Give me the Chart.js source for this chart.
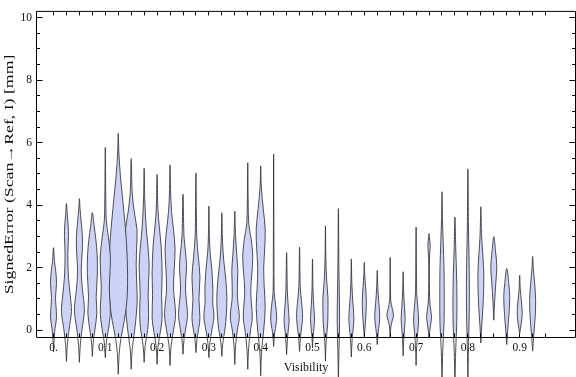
<!DOCTYPE html>
<html>
<head>
<meta charset="utf-8">
<script src="https://cdn.jsdelivr.net/npm/chart.js@4.4.1/dist/chart.umd.min.js"></script>
<style>
  html, body { margin: 0; padding: 0; background: #fff; }
  #wrap { width: 576px; height: 377px; }
</style>
</head>
<body>
<div id="wrap"><canvas id="violins"></canvas></div>
<script>
// Visibility value of each violin (x positions)
const visibility = [0, 0.025, 0.05, 0.075, 0.1, 0.125, 0.15, 0.175, 0.2, 0.225,
  0.25, 0.275, 0.3, 0.325, 0.35, 0.375, 0.4, 0.425, 0.45, 0.475,
  0.5, 0.525, 0.55, 0.575, 0.6, 0.625, 0.65, 0.675, 0.7, 0.725,
  0.75, 0.775, 0.8, 0.825, 0.85, 0.875, 0.9, 0.925];

// Density profile of each violin: [signed error in mm, relative density], bottom tip to top tip
const violinProfiles = [
  [[-0.7,0],[-0.3,0.06],[0.05,0.15],[0.4,0.3],[0.8,0.24],[1.05,0.2],[1.5,0.3],[1.9,0.22],[2.2,0.1],[2.64,0]],
  [[-1.0,0],[-0.5,0.08],[0,0.25],[0.6,0.5],[1.1,0.38],[1.7,0.2],[2.4,0.14],[3.0,0.2],[3.3,0.18],[3.7,0.08],[4.05,0]],
  [[-1.03,0],[-0.5,0.08],[0,0.25],[0.65,0.5],[1.3,0.3],[1.9,0.18],[2.5,0.28],[3.0,0.3],[3.5,0.17],[3.9,0.06],[4.21,0]],
  [[-0.84,0],[-0.4,0.08],[0,0.25],[0.55,0.45],[1.05,0.38],[1.8,0.5],[2.4,0.48],[2.9,0.35],[3.35,0.17],[3.76,0]],
  [[-0.88,0],[-0.4,0.1],[0,0.3],[0.5,0.5],[1.0,0.45],[1.35,0.4],[1.9,0.48],[2.4,0.5],[3.0,0.3],[3.5,0.1],[4.5,0.04],[5.85,0]],
  [[-1.41,0],[-0.8,0.08],[-0.3,0.25],[0.3,0.6],[1.0,0.88],[2.0,0.92],[3.0,0.78],[4.0,0.5],[5.0,0.2],[5.7,0.06],[6.3,0]],
  [[-1.25,0],[-0.6,0.1],[0,0.35],[0.9,0.6],[1.5,0.55],[2.1,0.5],[2.7,0.55],[3.2,0.58],[3.8,0.3],[4.4,0.1],[5.49,0]],
  [[-1.03,0],[-0.5,0.1],[0,0.35],[0.5,0.45],[1.1,0.4],[1.6,0.45],[2.05,0.5],[2.6,0.4],[3.3,0.2],[4.2,0.06],[5.18,0]],
  [[-1.09,0],[-0.5,0.1],[0,0.35],[0.4,0.5],[1.1,0.45],[1.8,0.5],[2.7,0.4],[3.3,0.22],[3.9,0.08],[4.98,0]],
  [[-1.13,0],[-0.5,0.1],[0,0.35],[0.5,0.55],[1.32,0.35],[2.0,0.42],[2.6,0.5],[3.2,0.35],[3.8,0.15],[4.5,0.05],[5.29,0]],
  [[-0.77,0],[-0.3,0.1],[0.1,0.3],[0.5,0.45],[1.3,0.25],[2.05,0.35],[2.5,0.25],[3.0,0.1],[4.35,0]],
  [[-0.72,0],[-0.3,0.1],[0.1,0.3],[0.4,0.4],[1.0,0.3],[1.7,0.4],[2.3,0.25],[3.0,0.08],[5.03,0]],
  [[-0.88,0],[-0.4,0.1],[0,0.3],[0.42,0.5],[0.9,0.38],[1.3,0.4],[1.9,0.3],[2.5,0.12],[3.0,0.05],[3.97,0]],
  [[-0.84,0],[-0.4,0.1],[0,0.3],[0.5,0.45],[1.05,0.5],[1.6,0.4],[2.2,0.2],[2.8,0.07],[3.76,0]],
  [[-1.1,0],[-0.5,0.08],[0,0.25],[0.42,0.45],[1.1,0.25],[1.88,0.3],[2.4,0.2],[3.0,0.08],[3.81,0]],
  [[-1.25,0],[-0.6,0.08],[0,0.28],[0.42,0.45],[1.25,0.3],[2.3,0.5],[2.9,0.35],[3.4,0.1],[4.2,0.04],[5.36,0]],
  [[-1.46,0],[-0.7,0.08],[0,0.3],[0.73,0.45],[1.4,0.35],[1.98,0.3],[2.6,0.4],[3.24,0.45],[3.9,0.25],[4.6,0.06],[5.26,0]],
  [[-0.52,0],[-0.1,0.1],[0.2,0.25],[0.42,0.3],[0.8,0.2],[1.2,0.06],[2.5,0.03],[5.64,0]],
  [[-0.78,0],[-0.3,0.08],[0.1,0.2],[0.31,0.25],[0.7,0.18],[1.2,0.08],[2.48,0]],
  [[-0.68,0],[-0.2,0.1],[0.2,0.25],[0.53,0.3],[0.9,0.2],[1.4,0.07],[2.66,0]],
  [[-0.56,0],[-0.2,0.06],[0.1,0.15],[0.37,0.2],[0.8,0.12],[1.3,0.05],[2.28,0]],
  [[-0.99,0],[-0.4,0.06],[0.2,0.22],[0.6,0.25],[1.04,0.25],[1.6,0.12],[2.3,0.04],[3.34,0]],
  [[-1.6,0],[-0.6,0.06],[0.3,0.12],[1.0,0.1],[2.0,0.05],[3.89,0]],
  [[-0.86,0],[-0.3,0.08],[0.1,0.2],[0.4,0.25],[0.9,0.15],[1.5,0.05],[2.28,0]],
  [[-0.2,0],[0.2,0.1],[0.6,0.18],[1.0,0.2],[1.4,0.12],[1.8,0.04],[2.17,0]],
  [[-0.46,0],[-0.1,0.08],[0.2,0.2],[0.48,0.25],[0.9,0.15],[1.4,0.05],[1.91,0]],
  [[-0.22,0],[0.1,0.06],[0.3,0.2],[0.48,0.33],[0.7,0.2],[0.95,0.05],[1.5,0.03],[2.33,0]],
  [[-0.82,0],[-0.3,0.06],[0.1,0.15],[0.37,0.2],[0.8,0.12],[1.3,0.04],[1.87,0]],
  [[-1.13,0],[-0.5,0.06],[0,0.18],[0.3,0.25],[0.7,0.18],[1.2,0.06],[3.3,0]],
  [[-0.25,0],[0.1,0.12],[0.43,0.25],[0.8,0.1],[1.3,0.04],[2.3,0.04],[2.72,0.12],[2.95,0.04],[3.09,0]],
  [[-1.7,0],[-0.6,0.08],[0.2,0.2],[1.0,0.22],[2.0,0.2],[2.8,0.12],[3.5,0.05],[4.43,0]],
  [[-1.7,0],[-0.6,0.08],[0.2,0.18],[1.0,0.2],[1.8,0.16],[2.6,0.08],[3.62,0]],
  [[-1.7,0],[-0.5,0.06],[0.3,0.12],[1.2,0.15],[2.2,0.12],[3.2,0.06],[5.16,0]],
  [[-0.41,0],[0.1,0.08],[0.8,0.22],[1.73,0.3],[2.4,0.2],[3.0,0.08],[3.95,0]],
  [[0.32,0],[0.9,0.08],[1.5,0.2],[2.05,0.3],[2.5,0.18],[2.99,0]],
  [[-0.46,0],[0,0.1],[0.5,0.22],[1.05,0.3],[1.5,0.2],[1.97,0]],
  [[-0.1,0],[0.2,0.15],[0.53,0.25],[0.9,0.18],[1.3,0.06],[1.76,0]],
  [[-0.67,0],[-0.2,0.1],[0.4,0.25],[0.95,0.3],[1.5,0.2],[2.0,0.06],[2.36,0]]
];

// tick marks and labels
const xTickValues = [0, 0.025, 0.05, 0.075, 0.1, 0.125, 0.15, 0.175, 0.2, 0.225,
  0.25, 0.275, 0.3, 0.325, 0.35, 0.375, 0.4, 0.425, 0.45, 0.475,
  0.5, 0.525, 0.55, 0.575, 0.6, 0.625, 0.65, 0.675, 0.7, 0.725,
  0.75, 0.775, 0.8, 0.825, 0.85, 0.875, 0.9, 0.925, 0.95];
const xLabelValues = [0, 0.1, 0.2, 0.3, 0.4, 0.5, 0.6, 0.7, 0.8, 0.9];
const xLabels = ['0.', '0.1', '0.2', '0.3', '0.4', '0.5', '0.6', '0.7', '0.8', '0.9'];
const yTickValues = [0, 0.5, 1, 1.5, 2, 2.5, 3, 3.5, 4, 4.5, 5, 5.5, 6, 6.5, 7, 7.5, 8, 8.5, 9, 9.5, 10];
const yLabelValues = [0, 2, 4, 6, 8, 10];
const yTitle = 'SignedError (Scan\u2192Ref, I) [mm]';

const halfWidthPerDensity = 0.0193;   // density 1 -> about 10px half width

// outline: right side bottom -> top, then left side top -> bottom
function violinOutline(x0, profile) {
  const right = profile.map(([e, d]) => ({x: x0 + d * halfWidthPerDensity, y: e}));
  const left = profile.slice(0, -1).reverse().map(([e, d]) => ({x: x0 - d * halfWidthPerDensity, y: e}));
  return right.concat(left);
}

const datasets = visibility.map((v, i) => ({
  data: violinOutline(v, violinProfiles[i]),
  showLine: true,
  fill: 'shape',
  backgroundColor: 'rgb(205,211,246)',
  borderColor: 'rgba(50,50,55,0.85)',
  borderWidth: 1,
  tension: 0.35,
  pointRadius: 0,
  clip: false
}));

const near = (a, b) => Math.abs(a - b) < 1e-6;

// Mathematica style frame with inward ticks on all four sides
const frameTicks = {
  id: 'frameTicks',
  afterDatasetsDraw(chart) {
    const {ctx, chartArea: a, scales: {x, y}} = chart;
    ctx.save();
    ctx.strokeStyle = '#000';
    ctx.lineWidth = 1;
    ctx.beginPath();
    ctx.rect(a.left + 0.5, a.top + 0.5, a.right - a.left - 1, a.bottom - a.top - 1);
    xTickValues.forEach(v => {
      const px = Math.floor(x.getPixelForValue(v)) + 0.5;
      ctx.moveTo(px, a.bottom); ctx.lineTo(px, a.bottom - 4.5);
      ctx.moveTo(px, a.top); ctx.lineTo(px, a.top + 4.5);
    });
    yTickValues.forEach(v => {
      const py = Math.floor(y.getPixelForValue(v)) + 0.5;
      const len = yLabelValues.some(l => near(l, v)) ? 6.5 : 4;
      ctx.moveTo(a.left, py); ctx.lineTo(a.left + len, py);
      ctx.moveTo(a.right, py); ctx.lineTo(a.right - len, py);
    });
    ctx.stroke();

    // y axis title, stretched along its length like the exported original
    const cy = (a.top + a.bottom) / 2;
    ctx.translate(10, cy);
    ctx.rotate(-Math.PI / 2);
    ctx.scale(1.48, 1);
    ctx.fillStyle = '#111';
    ctx.font = '12px "Liberation Serif"';
    ctx.textAlign = 'center';
    ctx.textBaseline = 'middle';
    ctx.fillText(yTitle, 0, 0);
    ctx.restore();
  }
};

new Chart(document.getElementById('violins'), {
  type: 'scatter',
  data: { datasets },
  options: {
    responsive: true,
    maintainAspectRatio: false,
    animation: false,
    layout: { padding: { top: 4, right: 0, left: 0, bottom: 0 } },
    elements: { line: { capBezierPoints: false } },
    plugins: { legend: { display: false }, tooltip: { enabled: false } },
    scales: {
      x: {
        type: 'linear',
        min: -0.0338,
        max: 1.0087,
        afterFit: s => { s.height = 39; },
        afterBuildTicks: s => { s.ticks = xTickValues.map(v => ({value: v})); },
        grid: { display: false, drawTicks: false },
        border: { display: false },
        ticks: {
          autoSkip: false,
          maxRotation: 0,
          padding: 3,
          color: '#111',
          font: { family: 'Liberation Serif', size: 11.5 },
          callback: v => {
            const k = xLabelValues.findIndex(l => near(l, v));
            return k >= 0 ? xLabels[k] : '';
          }
        },
        title: {
          display: true,
          text: 'Visibility',
          color: '#111',
          font: { family: 'Liberation Serif', size: 12 },
          padding: { top: 0, bottom: 2 }
        }
      },
      y: {
        type: 'linear',
        min: -0.251,
        max: 10.219,
        afterFit: s => { s.width = 36; },
        afterBuildTicks: s => { s.ticks = yTickValues.map(v => ({value: v})); },
        grid: { display: false, drawTicks: false },
        border: { display: false },
        ticks: {
          autoSkip: false,
          padding: 4,
          color: '#111',
          font: { family: 'Liberation Serif', size: 11.5 },
          callback: v => yLabelValues.some(l => near(l, v)) ? String(v) : ''
        },
        title: { display: false }
      }
    }
  },
  plugins: [frameTicks]
});
</script>
</body>
</html>
